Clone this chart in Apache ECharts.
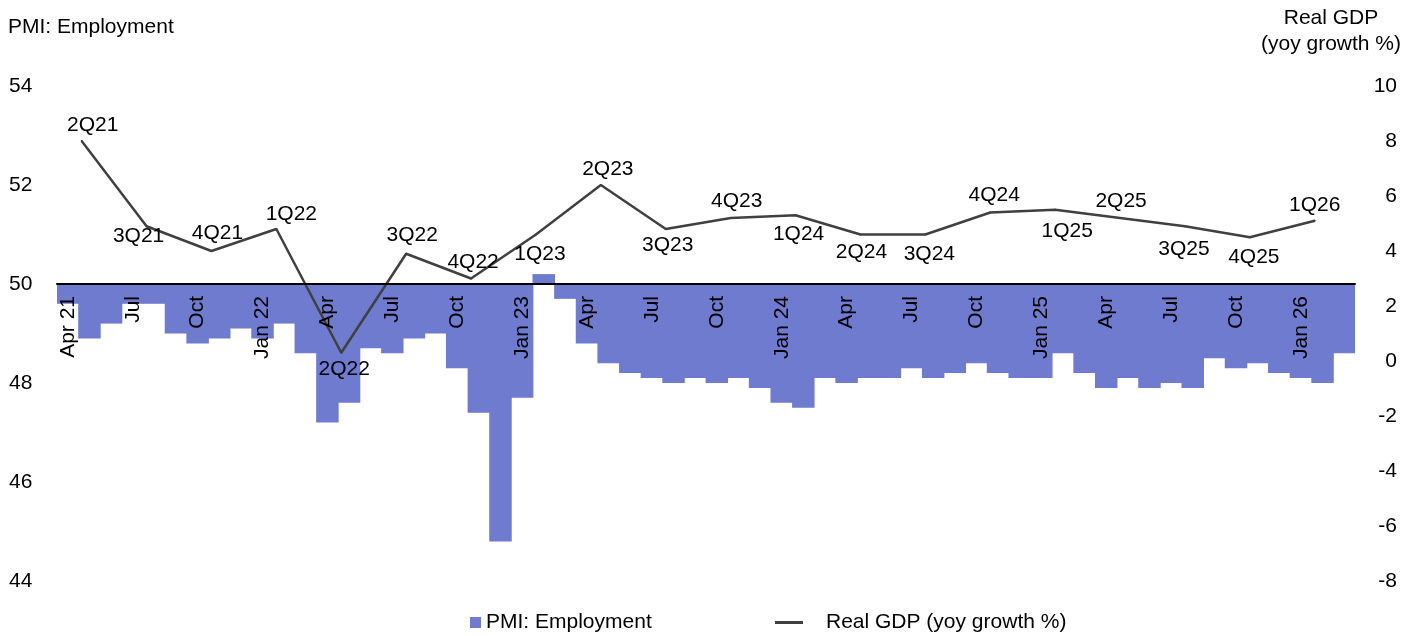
<!DOCTYPE html>
<html>
<head>
<meta charset="utf-8">
<title>PMI Employment vs Real GDP</title>
<script src="https://cdn.jsdelivr.net/npm/echarts@6/dist/echarts.min.js"></script>
<style>
  html, body { margin: 0; padding: 0; background: #ffffff; }
  #chart { width: 1421px; height: 636px; }
</style>
</head>
<body>
<div id="chart"></div>
<script>
// Monthly categories, Apr 2021 to Mar 2026
const months = [
  'Apr 21','May 21','Jun 21','Jul 21','Aug 21','Sep 21','Oct 21','Nov 21','Dec 21',
  'Jan 22','Feb 22','Mar 22','Apr 22','May 22','Jun 22','Jul 22','Aug 22','Sep 22','Oct 22','Nov 22','Dec 22',
  'Jan 23','Feb 23','Mar 23','Apr 23','May 23','Jun 23','Jul 23','Aug 23','Sep 23','Oct 23','Nov 23','Dec 23',
  'Jan 24','Feb 24','Mar 24','Apr 24','May 24','Jun 24','Jul 24','Aug 24','Sep 24','Oct 24','Nov 24','Dec 24',
  'Jan 25','Feb 25','Mar 25','Apr 25','May 25','Jun 25','Jul 25','Aug 25','Sep 25','Oct 25','Nov 25','Dec 25',
  'Jan 26','Feb 26','Mar 26'
];

// PMI employment index, one value per month
const pmiEmployment = [
  49.6, 48.9, 49.2, 49.6, 49.6, 49.0, 48.8, 48.9, 49.1,
  48.9, 49.2, 48.6, 47.2, 47.6, 48.7, 48.6, 48.9, 49.0, 48.3, 47.4, 44.8,
  47.7, 50.2, 49.7, 48.8, 48.4, 48.2, 48.1, 48.0, 48.1, 48.0, 48.1, 47.9,
  47.6, 47.5, 48.1, 48.0, 48.1, 48.1, 48.3, 48.1, 48.2, 48.4, 48.2, 48.1,
  48.1, 48.6, 48.2, 47.9, 48.1, 47.9, 48.0, 47.9, 48.5, 48.3, 48.4, 48.2,
  48.1, 48.0, 48.6
];

// Quarterly real GDP, yoy growth %
const gdpQuarters = [
  '2Q21','3Q21','4Q21','1Q22','2Q22','3Q22','4Q22','1Q23','2Q23','3Q23',
  '4Q23','1Q24','2Q24','3Q24','4Q24','1Q25','2Q25','3Q25','4Q25','1Q26'
];
const gdpGrowth = [
  8.0, 4.9, 4.0, 4.8, 0.3, 3.9, 3.0, 4.6, 6.4, 4.8,
  5.2, 5.3, 4.6, 4.6, 5.4, 5.5, 5.2, 4.9, 4.5, 5.1
];

// Left and right axis tick values
const pmiTicks = [44, 46, 48, 50, 52, 54];
const gdpTicks = [-8, -6, -4, -2, 0, 2, 4, 6, 8, 10];

// PMI bars hang from the 50 line
const PMI_BASE = 50;

// Quarter label placement (offset of the label centre from its point)
const gdpLabelOffset = [
  [11, -16], [-8, 10], [6, -18], [15, -15], [3, 16], [6, -19], [2, -16], [4, 20], [7, -16], [2, 16],
  [6, -17], [3, 19], [1, 18], [4, 20], [4, -17], [12, 21], [1, -17], [-1, 23], [4, 20], [0, -16]
];

const FONT = '"Liberation Sans", Arial, Helvetica, sans-serif';
const FS = 21;

// Plot area
const GRID = { left: 57, right: 66, top: 86, bottom: 55 };
const plotHeight = 636 - GRID.top - GRID.bottom;
const pmiMin = pmiTicks[0] - PMI_BASE;
const pmiMax = pmiTicks[pmiTicks.length - 1] - PMI_BASE;
// lift the month axis from the bottom edge up to the 50 line
const monthAxisOffset = -plotHeight * (0 - pmiMin) / (pmiMax - pmiMin);

// Position of a quarter on the monthly scale: its middle month, measured from Apr 21
function quarterPos(q) {
  const qn = parseInt(q.charAt(0), 10);
  const yr = parseInt(q.slice(2), 10);
  return (yr - 21) * 12 + (qn - 1) * 3 + 1 - 3 + 0.14;
}

const gdpData = gdpQuarters.map((q, i) => ({
  value: [quarterPos(q), gdpGrowth[i]],
  label: { offset: gdpLabelOffset[i] }
}));

const BAR_COLOR = '#6F7BCE';
const LINE_COLOR = '#404040';

const chart = echarts.init(document.getElementById('chart'), null, { renderer: 'canvas' });

chart.setOption({
  animation: false,
  backgroundColor: '#ffffff',
  textStyle: { fontFamily: FONT, color: '#000' },
  grid: {
    left: GRID.left, right: GRID.right, top: GRID.top, bottom: GRID.bottom,
    containLabel: false, outerBoundsMode: 'none'
  },
  graphic: [
    {
      type: 'text', x: 8, y: 27,
      style: { text: 'PMI: Employment', fontFamily: FONT, fontSize: FS, fill: '#000', verticalAlign: 'middle' }
    },
    {
      type: 'text', x: 1331, y: 5,
      style: { text: 'Real GDP\n(yoy growth %)', fontFamily: FONT, fontSize: FS, fill: '#000',
               align: 'center', verticalAlign: 'top', lineHeight: 26 }
    }
  ],
  legend: [
    {
      left: 470, top: 612, padding: 0, icon: 'rect', itemWidth: 11, itemHeight: 11,
      data: ['PMI: Employment'], selectedMode: false,
      textStyle: { fontFamily: FONT, fontSize: FS, color: '#000' }
    },
    {
      left: 775, top: 612, padding: 0, icon: 'rect', itemWidth: 28, itemHeight: 3,
      data: ['Real GDP (yoy growth %)'], selectedMode: false,
      textStyle: { fontFamily: FONT, fontSize: FS, color: '#000', padding: [0, 0, 0, 18] }
    }
  ],
  xAxis: [
    {
      type: 'category',
      data: months,
      boundaryGap: true,
      position: 'bottom',
      offset: monthAxisOffset,
      z: 10,
      axisLine: { onZero: false, lineStyle: { color: '#000', width: 2 } },
      axisTick: { show: false },
      splitLine: { show: false },
      axisLabel: {
        interval: 2, rotate: 90, margin: 12,
        fontFamily: FONT, fontSize: FS, color: '#000',
        formatter: (v, i) => (i === 0 || v.indexOf('Jan') === 0) ? v : v.slice(0, 3)
      }
    },
    { type: 'value', min: 0, max: months.length, show: false }
  ],
  yAxis: [
    {
      type: 'value', position: 'left',
      min: pmiMin, max: pmiMax, interval: 2,
      axisLine: { show: false }, axisTick: { show: false }, splitLine: { show: false },
      axisLabel: {
        align: 'left', margin: 48, fontFamily: FONT, fontSize: FS, color: '#000',
        formatter: v => String(v + PMI_BASE)
      }
    },
    {
      type: 'value', position: 'right',
      min: gdpTicks[0], max: gdpTicks[gdpTicks.length - 1], interval: 2,
      axisLine: { show: false }, axisTick: { show: false }, splitLine: { show: false },
      axisLabel: { align: 'right', margin: 42, fontFamily: FONT, fontSize: FS, color: '#000' }
    }
  ],
  series: [
    {
      name: 'PMI: Employment',
      type: 'bar',
      xAxisIndex: 0, yAxisIndex: 0,
      data: pmiEmployment.map(v => +(v - PMI_BASE).toFixed(2)),
      // bars slightly wider than their slot so neighbours meet without seams
      barWidth: '104%',
      itemStyle: { color: BAR_COLOR },
      silent: true,
      z: 2
    },
    {
      name: 'Real GDP (yoy growth %)',
      type: 'line',
      xAxisIndex: 1, yAxisIndex: 1,
      data: gdpData,
      symbol: 'circle',
      symbolSize: 2,
      itemStyle: { color: LINE_COLOR },
      lineStyle: { color: LINE_COLOR, width: 2.5 },
      label: {
        show: true, position: 'inside', align: 'center', verticalAlign: 'middle',
        fontFamily: FONT, fontSize: FS, color: '#000',
        formatter: p => gdpQuarters[p.dataIndex]
      },
      silent: true,
      z: 5
    }
  ]
});
</script>
</body>
</html>
